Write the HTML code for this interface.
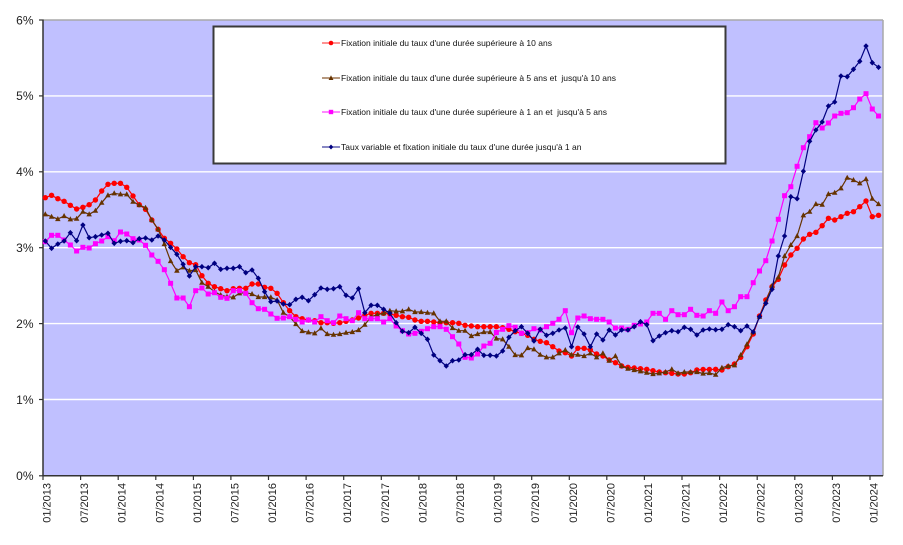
<!DOCTYPE html>
<html><head><meta charset="utf-8"><style>
html,body{margin:0;padding:0;background:#fff;}
svg{display:block;font-family:"Liberation Sans",Arial,sans-serif;}
</style></head><body>
<svg width="903" height="545" viewBox="0 0 903 545" xmlns="http://www.w3.org/2000/svg">
<defs>
<marker id="mc" markerUnits="userSpaceOnUse" markerWidth="10" markerHeight="10" overflow="visible"><ellipse cx="0" cy="0" rx="0.43" ry="2.7" fill="#ff0000"/></marker>
<marker id="mt" markerUnits="userSpaceOnUse" markerWidth="10" markerHeight="10" overflow="visible"><polygon points="-0.44,2.1 0.44,2.1 0,-3" fill="#663300"/></marker>
<marker id="ms" markerUnits="userSpaceOnUse" markerWidth="10" markerHeight="10" overflow="visible"><rect x="-0.4" y="-2.5" width="0.8" height="5" fill="#ff00ff"/></marker>
<marker id="md" markerUnits="userSpaceOnUse" markerWidth="10" markerHeight="10" overflow="visible"><polygon points="0,-2.8 0.43,0 0,2.8 -0.43,0" fill="#000080"/></marker>
</defs>
<rect x="0" y="0" width="903" height="545" fill="#fff"/>
<!-- plot area -->
<rect x="43" y="20" width="840" height="456" fill="#c0c0ff"/>
<g stroke="#ffffff" stroke-width="1.4">
<line x1="43" y1="95.9" x2="883" y2="95.9"/>
<line x1="43" y1="171.8" x2="883" y2="171.8"/>
<line x1="43" y1="247.7" x2="883" y2="247.7"/>
<line x1="43" y1="323.6" x2="883" y2="323.6"/>
<line x1="43" y1="399.5" x2="883" y2="399.5"/>
</g>
<line x1="43" y1="20" x2="883" y2="20" stroke="#a8a8a8" stroke-width="1.5"/>
<line x1="883" y1="20" x2="883" y2="476" stroke="#a8a8a8" stroke-width="1.5"/>
<line x1="43" y1="19.5" x2="43" y2="476" stroke="#333" stroke-width="1.5"/>
<line x1="43" y1="475.8" x2="883" y2="475.8" stroke="#333" stroke-width="1.5"/>
<!-- y ticks -->
<g stroke="#333" stroke-width="1.2">
<line x1="39" y1="20" x2="43" y2="20"/><line x1="39" y1="95.9" x2="43" y2="95.9"/><line x1="39" y1="171.8" x2="43" y2="171.8"/><line x1="39" y1="247.7" x2="43" y2="247.7"/><line x1="39" y1="323.6" x2="43" y2="323.6"/><line x1="39" y1="399.5" x2="43" y2="399.5"/><line x1="39" y1="475.8" x2="43" y2="475.8"/>
</g>
<g font-size="12" fill="#222" text-anchor="end">
<text x="33.5" y="24.3">6%</text>
<text x="33.5" y="100.2">5%</text>
<text x="33.5" y="176.1">4%</text>
<text x="33.5" y="252">3%</text>
<text x="33.5" y="327.9">2%</text>
<text x="33.5" y="403.8">1%</text>
<text x="33.5" y="480.1">0%</text>
</g>
<!-- x ticks -->
<g stroke="#333" stroke-width="1.2">
<line x1="43" y1="476" x2="43" y2="480"/><line x1="80.6" y1="476" x2="80.6" y2="480"/><line x1="118.2" y1="476" x2="118.2" y2="480"/><line x1="155.8" y1="476" x2="155.8" y2="480"/><line x1="193.4" y1="476" x2="193.4" y2="480"/><line x1="230.9" y1="476" x2="230.9" y2="480"/><line x1="268.5" y1="476" x2="268.5" y2="480"/><line x1="306.1" y1="476" x2="306.1" y2="480"/><line x1="343.7" y1="476" x2="343.7" y2="480"/><line x1="381.3" y1="476" x2="381.3" y2="480"/><line x1="418.9" y1="476" x2="418.9" y2="480"/><line x1="456.5" y1="476" x2="456.5" y2="480"/><line x1="494.1" y1="476" x2="494.1" y2="480"/><line x1="531.7" y1="476" x2="531.7" y2="480"/><line x1="569.3" y1="476" x2="569.3" y2="480"/><line x1="606.8" y1="476" x2="606.8" y2="480"/><line x1="644.4" y1="476" x2="644.4" y2="480"/><line x1="682" y1="476" x2="682" y2="480"/><line x1="719.6" y1="476" x2="719.6" y2="480"/><line x1="757.2" y1="476" x2="757.2" y2="480"/><line x1="794.8" y1="476" x2="794.8" y2="480"/><line x1="832.4" y1="476" x2="832.4" y2="480"/><line x1="870" y1="476" x2="870" y2="480"/>
</g>
<g font-size="11" fill="#222" text-anchor="end">
<text transform="translate(50.5,483) rotate(-90)">01/2013</text>
<text transform="translate(88.1,483) rotate(-90)">07/2013</text>
<text transform="translate(125.7,483) rotate(-90)">01/2014</text>
<text transform="translate(163.3,483) rotate(-90)">07/2014</text>
<text transform="translate(200.9,483) rotate(-90)">01/2015</text>
<text transform="translate(238.4,483) rotate(-90)">07/2015</text>
<text transform="translate(276,483) rotate(-90)">01/2016</text>
<text transform="translate(313.6,483) rotate(-90)">07/2016</text>
<text transform="translate(351.2,483) rotate(-90)">01/2017</text>
<text transform="translate(388.8,483) rotate(-90)">07/2017</text>
<text transform="translate(426.4,483) rotate(-90)">01/2018</text>
<text transform="translate(464,483) rotate(-90)">07/2018</text>
<text transform="translate(501.6,483) rotate(-90)">01/2019</text>
<text transform="translate(539.2,483) rotate(-90)">07/2019</text>
<text transform="translate(576.8,483) rotate(-90)">01/2020</text>
<text transform="translate(614.3,483) rotate(-90)">07/2020</text>
<text transform="translate(651.9,483) rotate(-90)">01/2021</text>
<text transform="translate(689.5,483) rotate(-90)">07/2021</text>
<text transform="translate(727.1,483) rotate(-90)">01/2022</text>
<text transform="translate(764.7,483) rotate(-90)">07/2022</text>
<text transform="translate(802.3,483) rotate(-90)">01/2023</text>
<text transform="translate(839.9,483) rotate(-90)">07/2023</text>
<text transform="translate(877.5,483) rotate(-90)">01/2024</text>
</g>
<!-- series -->
<g transform="translate(45.3,0) scale(6.265,1)" fill="none" stroke-linejoin="round">
<polyline vector-effect="non-scaling-stroke" stroke="#ff0000" stroke-width="1.2" marker-start="url(#mc)" marker-mid="url(#mc)" marker-end="url(#mc)" points="0,197.7 1,195.3 2,198.7 3,201.3 4,205.3 5,209 6,207.3 7,204.7 8,200 9,191 10,184.3 11,183.3 12,183.3 13,187.3 14,196 15,204.7 16,209.3 17,220 18,229.3 19,238.3 20,243.3 21,249 22,256.7 23,262.7 24,264.7 25,275.7 26,283.3 27,286.7 28,288.7 29,290.7 30,288.7 31,288.3 32,288.3 33,284 34,284 35,287.3 36,288.3 37,293.3 38,302.7 39,310.7 40,316.7 41,318.7 42,320 43,320.7 44,322.7 45,322.7 46,323.3 47,322.7 48,321.3 49,320 50,318 51,315.3 52,313.3 53,313.3 54,313.3 55,314 56,315.3 57,316.7 58,317.3 59,320 60,321.3 61,321.3 62,322 63,322.7 64,322.7 65,322.7 66,323.3 67,325.3 68,326 69,326.7 70,326.7 71,326.7 72,326.7 73,327.7 74,329.3 75,331.7 76,333.3 77,335.3 78,339.3 79,341.3 80,342.7 81,346.7 82,351 83,352.7 84,356 85,348.3 86,348.3 87,350 88,354 89,356 90,360 91,362.7 92,366 93,367.3 94,368 95,368.7 96,369.3 97,370.7 98,372 99,372.7 100,373.3 101,374 102,374 103,372.7 104,370 105,369.5 106,369.5 107,369.3 108,370 109,366.7 110,364 111,357.3 112,346.7 113,334 114,316 115,300 116,286.7 117,279.3 118,265 119,255 120,248.3 121,239 122,234.3 123,232.3 124,225.7 125,218.3 126,220 127,216.7 128,213.3 129,211.7 130,206.7 131,201 132,216.7 133,215.3"/>
<polyline vector-effect="non-scaling-stroke" stroke="#663300" stroke-width="1.2" marker-start="url(#mt)" marker-mid="url(#mt)" marker-end="url(#mt)" points="0,214.3 1,216.7 2,219 3,216 4,219.3 5,218.7 6,211.7 7,214.3 8,210.7 9,202.7 10,195.3 11,193.3 12,194.3 13,194.3 14,201.7 15,205 16,207.7 17,220 18,229.3 19,244 20,261 21,270.7 22,267.3 23,270.7 24,270 25,282.7 26,286.7 27,291.7 28,295 29,296.7 30,297.3 31,293.3 32,292.7 33,294 34,297 35,297 36,297.3 37,300 38,312.7 39,316.7 40,324 41,331 42,332.3 43,333.3 44,328.3 45,334 46,334.7 47,334 48,332.7 49,332 50,330 51,324.7 52,316.7 53,314.7 54,313.3 55,310.7 56,311.3 57,311.3 58,309.3 59,312 60,312 61,312.7 62,313.3 63,321.3 64,321.3 65,328 66,330.7 67,330.7 68,336 69,334 70,332 71,332 72,338.5 73,339.3 74,346.7 75,355 76,355.3 77,348 78,349.3 79,354.7 80,357.3 81,357.3 82,353.3 83,350 84,354.7 85,354.7 86,356 87,353.3 88,357.3 89,353.3 90,360.7 91,356 92,366 93,368.7 94,370 95,371.3 96,372.7 97,374 98,373.3 99,372 100,369.3 101,373.3 102,372 103,372 104,372 105,373.5 106,373 107,374.7 108,367.7 109,366 110,365.3 111,355 112,344.3 113,332 114,316.7 115,301.7 116,285.7 117,277.3 118,256 119,245 120,236 121,215.3 122,211.7 123,204 124,204.7 125,194 126,192.7 127,188.3 128,177.7 129,180 130,183.3 131,179 132,198.7 133,204"/>
<polyline vector-effect="non-scaling-stroke" stroke="#ff00ff" stroke-width="1.2" marker-start="url(#ms)" marker-mid="url(#ms)" marker-end="url(#ms)" points="0,241.7 1,235.3 2,235.3 3,240 4,245 5,251 6,247.3 7,248 8,243.7 9,241 10,236.7 11,240.7 12,232 13,234 14,238.7 15,240 16,245.3 17,255 18,261.3 19,269.7 20,283.3 21,298 22,298 23,306.7 24,290.7 25,288 26,294 27,292.7 28,297.3 29,298.3 30,290.7 31,290.7 32,293.3 33,302.7 34,308.7 35,309.3 36,314 37,318.3 38,318 39,316.7 40,319.3 41,322 42,320 43,322 44,316.7 45,320.7 46,322.7 47,316 48,318.7 49,320.7 50,312.7 51,318.7 52,318.7 53,318.7 54,322 55,318.7 56,326 57,330.7 58,334 59,333.3 60,331.3 61,328.7 62,326.7 63,326.7 64,329.3 65,336.7 66,344 67,357.3 68,358 69,354 70,346 71,343.3 72,332.5 73,329.3 74,325.7 75,327.3 76,333.3 77,332.7 78,328.7 79,330 80,326.7 81,323.3 82,319.3 83,310.7 84,332.7 85,318 86,316 87,318.7 88,319.3 89,319.3 90,322 91,328 92,328 93,329.3 94,325.3 95,324 96,322 97,313.3 98,313.3 99,319.3 100,310.7 101,314.7 102,314.7 103,309.3 104,315.3 105,316 106,310.7 107,313.3 108,302 109,310.7 110,306.7 111,296.7 112,296.7 113,282.7 114,271 115,260.7 116,241 117,219.3 118,195.7 119,186.7 120,166.3 121,147.7 122,136.7 123,122.7 124,128 125,123 126,116 127,113.3 128,112.7 129,107.7 130,99 131,93.7 132,109 133,116"/>
<polyline vector-effect="non-scaling-stroke" stroke="#000080" stroke-width="1.2" marker-start="url(#md)" marker-mid="url(#md)" marker-end="url(#md)" points="0,241 1,248.3 2,244 3,241 4,232.7 5,240.7 6,225 7,237.7 8,236.7 9,235 10,233.3 11,243.3 12,241.3 13,240.7 14,242.7 15,238.7 16,238 17,240 18,236 19,240 20,247.3 21,254.3 22,264.3 23,276 24,266.7 25,266.7 26,267.7 27,263.3 28,269.3 29,268.3 30,268.3 31,266.7 32,272.7 33,270 34,278.3 35,291.7 36,301.7 37,301 38,304 39,304.7 40,299.3 41,297.3 42,300.7 43,294.7 44,288 45,289.3 46,288.7 47,286.7 48,295.3 49,298 50,288.7 51,312.7 52,305.3 53,305.3 54,309.3 55,313.3 56,322.7 57,331.3 58,332.7 59,327.3 60,333.3 61,339.3 62,355 63,360.7 64,366 65,360.7 66,360 67,354.7 68,354.7 69,349.3 70,355.3 71,355.3 72,356 73,351 74,337.3 75,330.7 76,326.7 77,333.3 78,341 79,329.3 80,335.3 81,333.3 82,330 83,328 84,346.7 85,327 86,334 87,346.7 88,334 89,340 90,330 91,335 92,330 93,330 94,326.7 95,321.7 96,324.7 97,340.7 98,336 99,332.7 100,330.7 101,331.7 102,327.3 103,329.3 104,335 105,330 106,329 107,329.7 108,329.3 109,324.7 110,326.7 111,330.7 112,326 113,332 114,316.7 115,303.3 116,289.3 117,256 118,236 119,196.7 120,198.7 121,171.3 122,141.3 123,130 124,122 125,106 126,102 127,76 128,76.7 129,69.3 130,61.3 131,46 132,62.7 133,67.3"/>
</g>
<!-- legend -->
<rect x="213.5" y="26.5" width="512" height="137" fill="#ffffff" stroke="#3a3a3a" stroke-width="2"/>
<g stroke-width="1.3">
<line x1="322" y1="43" x2="340" y2="43" stroke="#ff5050"/>
<line x1="322" y1="78" x2="340" y2="78" stroke="#8a5a30"/>
<line x1="322" y1="112" x2="340" y2="112" stroke="#ff40ff"/>
<line x1="322" y1="147" x2="340" y2="147" stroke="#4040a0"/>
</g>
<circle cx="331" cy="43" r="2.3" fill="#ff0000"/>
<polygon points="328.6,80 333.4,80 331,75.3" fill="#663300"/>
<rect x="328.8" y="109.8" width="4.4" height="4.4" fill="#ff00ff"/>
<polygon points="331,144.5 333.3,147 331,149.5 328.7,147" fill="#000080"/>
<g font-size="8.5" fill="#111">
<text x="341" y="46">Fixation initiale du taux d'une durée supérieure à 10 ans</text>
<text x="341" y="81">Fixation initiale du taux d'une durée supérieure à 5 ans et&#160; jusqu'à 10 ans</text>
<text x="341" y="115">Fixation initiale du taux d'une durée supérieure à 1 an et&#160; jusqu'à 5 ans</text>
<text x="341" y="150">Taux variable et fixation initiale du taux d'une durée jusqu'à 1 an</text>
</g>
</svg>
</body></html>
